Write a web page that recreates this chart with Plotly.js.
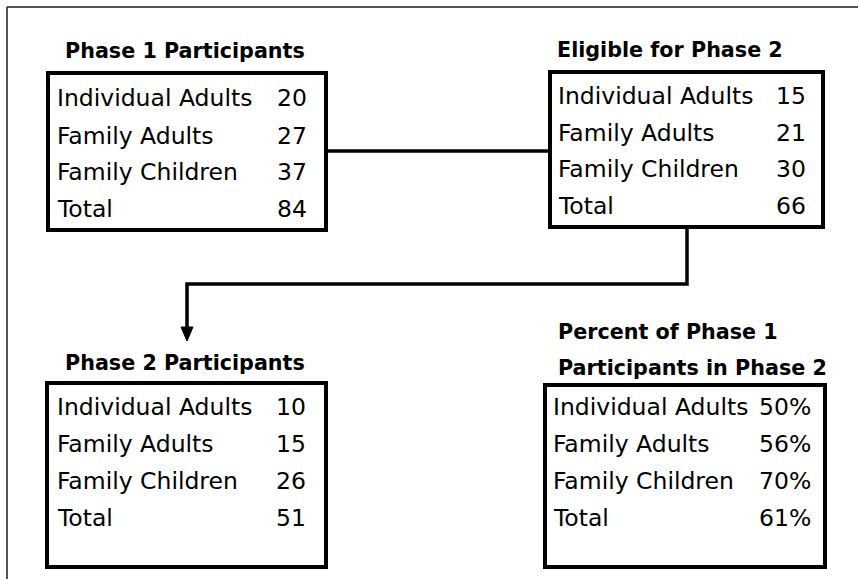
<!DOCTYPE html>
<html>
<head>
<meta charset="utf-8">
<script src="https://cdn.plot.ly/plotly-3.0.1.min.js"></script>
<style>html,body{margin:0;padding:0;background:#fff;}#chart{width:858px;height:579px;}</style>
</head>
<body>
<div id="chart"></div>
<script>
// ---- data ----
const categories = ["Individual Adults", "Family Adults", "Family Children", "Total"];
const phase1Participants = [20, 27, 37, 84];
const eligibleForPhase2 = [15, 21, 30, 66];
const phase2Participants = [10, 15, 26, 51];
const percentInPhase2 = [50, 56, 70, 61];
const boxTitles = [["Phase 1 Participants"], ["Eligible for Phase 2"], ["Phase 2 Participants"], ["Percent of Phase 1", "Participants in Phase 2"]];

// ---- layout geometry (pixels, y downward) ----
const boxes = [
  {x0: 48, x1: 326, y0: 73, y1: 230, labelX: 55, valueX: 309, titleX: 63, titleY: [51], rows: [98, 136, 172, 209], values: phase1Participants, fmt: v => String(v)},
  {x0: 550, x1: 823, y0: 72, y1: 227, labelX: 556, valueX: 808, titleX: 555, titleY: [50], rows: [96, 133, 169, 206], values: eligibleForPhase2, fmt: v => String(v)},
  {x0: 47, x1: 326, y0: 383, y1: 567, labelX: 55, valueX: 308, titleX: 63, titleY: [363], rows: [407, 444, 481, 518], values: phase2Participants, fmt: v => String(v)},
  {x0: 545, x1: 825, y0: 385, y1: 567, labelX: 551, valueX: 813, titleX: 556, titleY: [332, 368], rows: [407, 444, 481, 518], values: percentInPhase2, fmt: v => v + "%"}
];

const FONT = "DejaVu Sans, Arial, sans-serif";
const shapes = [];
const annotations = [];

// outer frame (top and left edges visible)
shapes.push({type: "line", xref: "x", yref: "y", x0: 7, y0: 7, x1: 860, y1: 7, line: {color: "#1a1a1a", width: 1.5}});
shapes.push({type: "line", xref: "x", yref: "y", x0: 7, y0: 7, x1: 7, y1: 585, line: {color: "#1a1a1a", width: 1.5}});

boxes.forEach((b, i) => {
  shapes.push({type: "rect", xref: "x", yref: "y", x0: b.x0, x1: b.x1, y0: b.y0, y1: b.y1,
    line: {color: "#000", width: 4}, fillcolor: "rgba(0,0,0,0)"});
  boxTitles[i].forEach((t, k) => {
    annotations.push({xref: "x", yref: "y", x: b.titleX, y: b.titleY[k], text: "<b>" + t + "</b>",
      showarrow: false, xanchor: "left", yanchor: "middle", align: "left",
      font: {family: FONT, size: 20.7, color: "#000"}});
  });
  categories.forEach((c, j) => {
    annotations.push({xref: "x", yref: "y", x: b.labelX, y: b.rows[j], text: c, showarrow: false,
      xanchor: "left", yanchor: "middle", font: {family: FONT, size: 23.5, color: "#000"}});
    annotations.push({xref: "x", yref: "y", x: b.valueX, y: b.rows[j], text: b.fmt(b.values[j]), showarrow: false,
      xanchor: "right", yanchor: "middle", font: {family: FONT, size: 23.5, color: "#000"}});
  });
});

// connectors
shapes.push({type: "line", xref: "x", yref: "y", x0: 326, y0: 151, x1: 550, y1: 151, line: {color: "#000", width: 3.5}});
shapes.push({type: "path", xref: "x", yref: "y", path: "M 687 227 L 687 284 L 187 284 L 187 330",
  line: {color: "#000", width: 3.5}, fillcolor: "rgba(0,0,0,0)"});
shapes.push({type: "path", xref: "x", yref: "y", path: "M 181 327 L 193 327 L 187 341 Z",
  line: {color: "#000", width: 1}, fillcolor: "#000"});

const layout = {
  width: 858, height: 579,
  margin: {l: 0, r: 0, t: 0, b: 0},
  paper_bgcolor: "#fff", plot_bgcolor: "#fff",
  xaxis: {range: [0, 858], visible: false, fixedrange: true},
  yaxis: {range: [579, 0], visible: false, fixedrange: true},
  showlegend: false,
  shapes: shapes,
  annotations: annotations
};

Plotly.newPlot("chart", [{x: [], y: [], type: "scatter", mode: "markers", hoverinfo: "skip"}], layout, {staticPlot: true, displayModeBar: false});
</script>
</body>
</html>
